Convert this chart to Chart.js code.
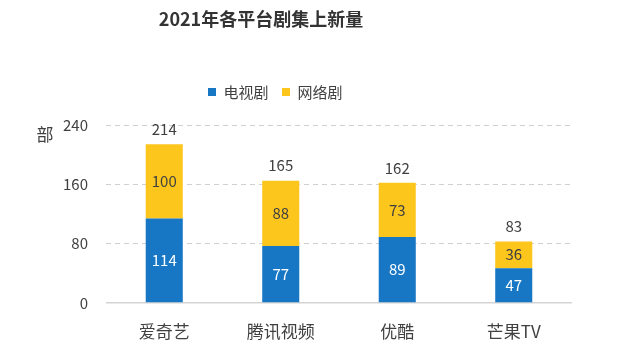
<!DOCTYPE html>
<html>
<head>
<meta charset="utf-8">
<script src="https://cdn.jsdelivr.net/npm/chart.js@4"></script>
<style>
html,body{margin:0;padding:0;background:#fff;}
#wrap{width:641px;height:357px;position:relative;}
</style>
</head>
<body>
<div id="wrap"><canvas id="c"></canvas></div>
<script>
const categories = ['爱奇艺', '腾讯视频', '优酷', '芒果TV'];
const tvSeries = [114, 77, 89, 47];
const webSeries = [100, 88, 73, 36];
const totals = [214, 165, 162, 83];
const yTicks = [0, 80, 160, 240];
const seriesNames = ['电视剧', '网络剧'];
const titleText = '2021年各平台剧集上新量';
const yUnit = '部';

const FONT = "'Noto Sans CJK SC', 'Noto Sans', sans-serif";
const BLUE = '#1777C4';
const YELLOW = '#FDC61D';
const TXT = '#404040';

const layoutFix = {
  id: 'layoutFix',
  afterLayout(chart) {
    const t = chart.titleBlock;
    if (t) { t.left = 0; t.right = 522; }
    const lg = chart.legend;
    if (lg) {
      const p = lg.options.labels.padding;
      const lw = lg.lineWidths[0];
      const startX = 208;
      const sum = 2 * startX - p + lw;
      lg.left = 0; lg.right = sum;
      const shift = 15.5;
      lg.top -= shift; lg.bottom -= shift;
    }
  },
  afterDatasetsDraw(chart) {
    const ctx = chart.ctx;
    ctx.save();
    ctx.font = '15px ' + FONT;
    ctx.textAlign = 'center';
    ctx.textBaseline = 'middle';
    chart.data.datasets.forEach((ds, di) => {
      const meta = chart.getDatasetMeta(di);
      meta.data.forEach((bar, i) => {
        ctx.fillStyle = di === 0 ? '#ffffff' : TXT;
        ctx.fillText(String(ds.data[i]), bar.x, (bar.y + bar.base) / 2);
      });
    });
    const top = chart.getDatasetMeta(1);
    ctx.fillStyle = TXT;
    top.data.forEach((bar, i) => {
      ctx.fillText(String(totals[i]), bar.x, bar.y - 15);
    });
    ctx.font = '17px ' + FONT;
    ctx.fillStyle = TXT;
    ctx.fillText(yUnit, 45, 135);
    ctx.restore();
  }
};

new Chart(document.getElementById('c'), {
  type: 'bar',
  data: {
    labels: categories,
    datasets: [
      { label: seriesNames[0], data: tvSeries, backgroundColor: BLUE, borderWidth: 0 },
      { label: seriesNames[1], data: webSeries, backgroundColor: YELLOW, borderWidth: 0 }
    ]
  },
  options: {
    responsive: true,
    maintainAspectRatio: false,
    animation: false,
    layout: { padding: { left: 0, right: 69, top: 0, bottom: 0 } },
    datasets: { bar: { categoryPercentage: 1, barPercentage: 0.318 } },
    plugins: {
      title: {
        display: true,
        text: titleText,
        color: '#333333',
        font: { family: FONT, size: 18, weight: 'bold', lineHeight: 1.2 },
        padding: { top: 8, bottom: 56.9 }
      },
      legend: {
        display: true,
        position: 'top',
        labels: {
          color: TXT,
          font: { family: FONT, size: 15 },
          boxWidth: 8,
          boxHeight: 8,
          padding: 13.5
        }
      },
      tooltip: { enabled: false }
    },
    scales: {
      x: {
        stacked: true,
        grid: { display: false, drawTicks: false },
        border: { display: false },
        ticks: { color: TXT, font: { family: FONT, size: 17 }, padding: 18 },
        afterFit(s) { s.height = 54; }
      },
      y: {
        stacked: true,
        min: 0,
        max: 240,
        afterBuildTicks(s) { s.ticks = yTicks.map(v => ({ value: v })); },
        grid: {
          drawTicks: false,
          color: c => c.tick && c.tick.value === 0 ? '#d4d4d4' : '#d0d0d0',
          lineWidth: c => c.tick && c.tick.value === 0 ? 1.5 : 1
        },
        border: {
          display: false,
          dash: c => c.tick && c.tick.value === 0 ? [] : [5, 4]
        },
        ticks: { color: TXT, font: { family: FONT, size: 15 }, padding: 18 },
        afterFit(s) { s.width = 106; }
      }
    }
  },
  plugins: [layoutFix]
});
</script>
</body>
</html>
